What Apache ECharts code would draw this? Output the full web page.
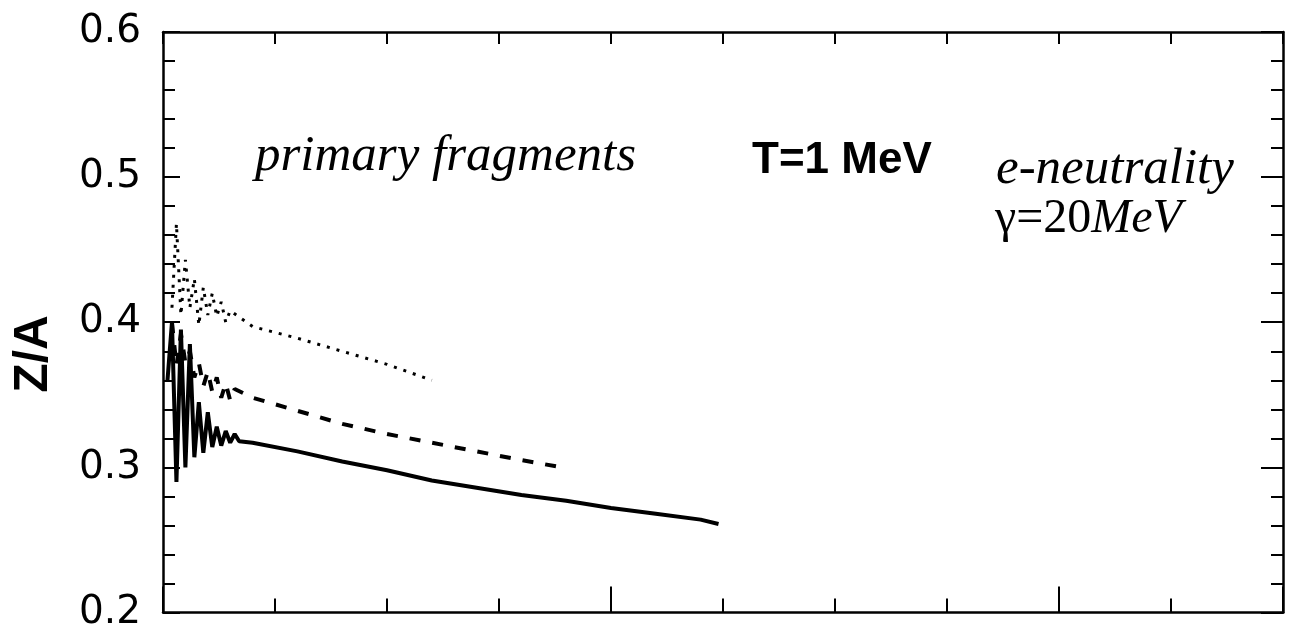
<!DOCTYPE html>
<html>
<head>
<meta charset="utf-8">
<script src="https://cdn.jsdelivr.net/npm/echarts@6/dist/echarts.min.js"></script>
<style>
html,body{margin:0;padding:0;background:#fff;}
#chart{width:1290px;height:632px;}
</style>
</head>
<body>
<div id="chart"></div>
<script>
// Data (x in arbitrary units 0..250, y = Z/A)
const solidX = [1,2,3,4,5,6,7,8,9,10,11,12,13,14,15,16,17,20,30,40,50,60,70,80,90,100,110,120,124];
const solidY = [0.36,0.40,0.29,0.395,0.30,0.385,0.307,0.345,0.31,0.338,0.314,0.328,0.315,0.325,0.317,0.323,0.318,0.317,0.311,0.304,0.298,0.291,0.286,0.281,0.277,0.272,0.268,0.264,0.261];

const dashedX = [2,3,4,5,6,7,8,9,10,11,12,13,14,15,16,20,30,40,50,60,70,80,89];
const dashedY = [0.40,0.37,0.392,0.372,0.38,0.362,0.372,0.356,0.366,0.352,0.362,0.348,0.358,0.346,0.354,0.348,0.339,0.330,0.323,0.317,0.311,0.305,0.300];

const dottedX = [2,3,4,5,6,7,8,9,10,11,12,13,14,15,20,30,40,50,60];
const dottedY = [0.41,0.468,0.405,0.443,0.41,0.43,0.398,0.424,0.405,0.42,0.404,0.414,0.40,0.408,0.397,0.389,0.380,0.371,0.360];

const yTickLabels = ['0.2','0.3','0.4','0.5','0.6'];

function pairs(xs, ys){ return xs.map((x,i)=>[x, ys[i]]); }

const chart = echarts.init(document.getElementById('chart'), null, {renderer:'canvas'});

function xAx(pos, majorLen, minorLen){
  return {type:'value', position:pos, min:0, max:250, interval:100,
    axisLine:{show:true, onZero:false, lineStyle:{color:'#000', width:2.5}},
    axisTick:{show:true, inside:true, length:majorLen, lineStyle:{color:'#000', width:2}},
    minorTick:{show:true, splitNumber:4, length:minorLen, lineStyle:{color:'#000', width:2}},
    axisLabel:{show:false}, splitLine:{show:false}, minorSplitLine:{show:false}};
}

chart.setOption({
  animation:false,
  backgroundColor:'#fff',
  grid:{left:163, right:7, top:32, bottom:19},
  xAxis:[
    xAx('bottom', 26, 14),
    xAx('top', 12, 12)
  ],
  yAxis:[
    {type:'value', position:'left', min:0.2, max:0.6, interval:0.1,
     axisLine:{show:true, onZero:false, lineStyle:{color:'#000', width:2.5}},
     axisTick:{show:true, inside:false, length:-17, lineStyle:{color:'#000', width:2}},
     minorTick:{show:true, splitNumber:5, length:-12, lineStyle:{color:'#000', width:2}},
     axisLabel:{show:true, margin:22, color:'#000', fontFamily:'DejaVu Sans', fontSize:39,
       formatter:function(v){ const i = Math.round((v-0.2)/0.1); return yTickLabels[i] || ''; }},
     splitLine:{show:false}},
    {type:'value', position:'right', min:0.2, max:0.6, interval:0.1,
     axisLine:{show:true, onZero:false, lineStyle:{color:'#000', width:2.5}},
     axisTick:{show:true, inside:true, length:22, lineStyle:{color:'#000', width:2}},
     minorTick:{show:true, splitNumber:5, length:12, lineStyle:{color:'#000', width:2}},
     axisLabel:{show:false}, splitLine:{show:false}}
  ],
  series:[
    {type:'line', name:'solid', xAxisIndex:0, yAxisIndex:0, data:pairs(solidX, solidY), showSymbol:false, symbol:'none',
     lineStyle:{color:'#000', width:4, type:'solid'}},
    {type:'line', name:'dashed', xAxisIndex:0, yAxisIndex:0, data:pairs(dashedX, dashedY), showSymbol:false, symbol:'none',
     lineStyle:{color:'#000', width:4, type:[11,12]}},
    {type:'line', name:'dotted', xAxisIndex:0, yAxisIndex:0, data:pairs(dottedX, dottedY), showSymbol:false, symbol:'none',
     lineStyle:{color:'#000', width:3, type:[3,7]}}
  ],
  graphic:[
    {type:'text', x:34, y:354, rotation:Math.PI/2, style:{text:'Z/A', fontFamily:'Liberation Sans', fontWeight:'bold', fontSize:48, fill:'#000', align:'center', verticalAlign:'middle'}},
    {type:'text', x:255, y:157, style:{text:'primary fragments', fontFamily:'Liberation Serif', fontStyle:'italic', fontSize:51, fill:'#000', align:'left', verticalAlign:'middle'}},
    {type:'text', x:752, y:161, style:{text:'T=1 MeV', fontFamily:'Liberation Sans', fontWeight:'bold', fontSize:44, fill:'#000', align:'left', verticalAlign:'middle'}},
    {type:'text', x:996, y:170, style:{text:'e-neutrality', fontFamily:'Liberation Serif', fontStyle:'italic', fontSize:51, fill:'#000', align:'left', verticalAlign:'middle'}},
    {type:'text', x:995, y:219, style:{rich:{a:{fontFamily:'Liberation Serif', fontSize:48, fill:'#000'}, b:{fontFamily:'Liberation Serif', fontStyle:'italic', fontSize:48, fill:'#000'}}, text:'{a|γ=20}{b|MeV}', align:'left', verticalAlign:'middle'}}
  ]
});
</script>
</body>
</html>
